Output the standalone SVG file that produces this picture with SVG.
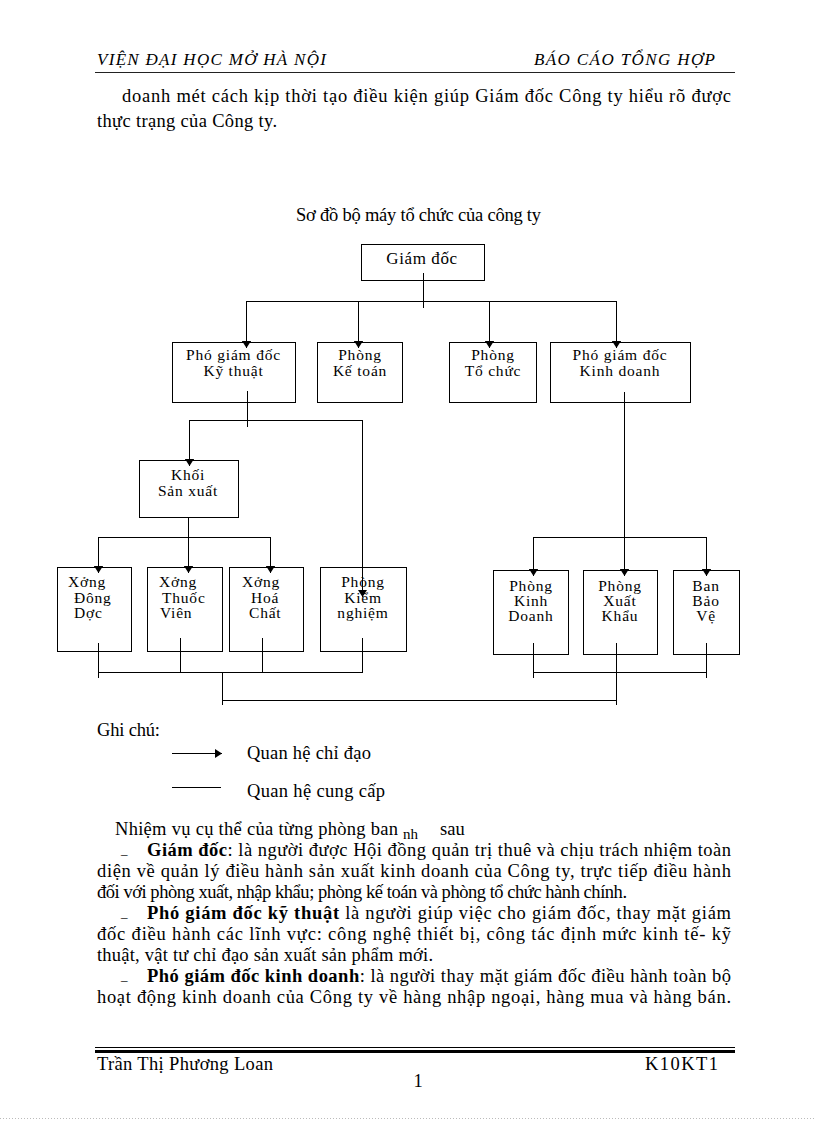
<svg xmlns="http://www.w3.org/2000/svg" width="816" height="1123" viewBox="0 0 816 1123">
<style>
.t{font-family:"Liberation Serif","Times New Roman",serif;fill:#000}
.body{font-size:18.5px}
.hdr{font-size:17px;font-style:italic}
.bul{font-size:13px}
.bx{font-family:"Liberation Serif","Times New Roman",serif;font-size:15.5px;letter-spacing:0.8px;fill:#000}
.c{text-anchor:middle}
.box{fill:#fff;stroke:#000;stroke-width:1}
.ln{fill:none;stroke:#000;stroke-width:1}
.ar{fill:none;stroke:#000;stroke-width:1;marker-end:url(#ah)}
</style>
<defs>
<marker id="ah" markerUnits="userSpaceOnUse" markerWidth="7" markerHeight="9" viewBox="0 0 7 9" refX="7" refY="4.5" orient="auto">
<path d="M0,0 L7,4.5 L0,9 z" fill="#000"/>
</marker>
</defs>
<rect width="816" height="1123" fill="#fff"/>

<g id="header">
<text class="t hdr" x="97" y="65" textLength="229" lengthAdjust="spacing">VIỆN ĐẠI HỌC MỞ HÀ NỘI</text>
<text class="t hdr" x="534" y="65" textLength="181" lengthAdjust="spacing">BÁO CÁO TỔNG HỢP</text>
<line x1="95" y1="72.5" x2="735" y2="72.5" stroke="#222" stroke-width="1"/>
</g>

<g id="intro">
<text class="t body" x="122" y="102" textLength="609" lengthAdjust="spacing">doanh mét cách kịp thời tạo điều kiện giúp Giám đốc Công ty hiểu rõ được</text>
<text class="t body" x="97" y="127" textLength="180" lengthAdjust="spacing">thực trạng của Công ty.</text>
</g>

<text id="title" class="t" x="296" y="221" font-size="18.5" textLength="245" lengthAdjust="spacing">Sơ đồ bộ máy tổ chức của công ty</text>

<g id="connectors">
<line class="ln" x1="423.5" y1="273" x2="423.5" y2="308"/>
<line class="ln" x1="246" y1="301.5" x2="616" y2="301.5"/>
<line class="ar" x1="246.5" y1="301" x2="246.5" y2="348"/>
<line class="ar" x1="358.5" y1="301" x2="358.5" y2="348"/>
<line class="ar" x1="489.5" y1="301" x2="489.5" y2="348"/>
<line class="ar" x1="616.5" y1="301" x2="616.5" y2="348"/>
<line class="ln" x1="247.5" y1="391" x2="247.5" y2="427"/>
<line class="ln" x1="189" y1="420.5" x2="362" y2="420.5"/>
<line class="ar" x1="189.5" y1="420" x2="189.5" y2="466"/>
<line class="ar" x1="362.5" y1="420" x2="362.5" y2="597"/>
<line class="ar" x1="188.5" y1="517" x2="188.5" y2="573"/>
<line class="ln" x1="98" y1="537.5" x2="270" y2="537.5"/>
<line class="ar" x1="98.5" y1="537" x2="98.5" y2="573"/>
<line class="ar" x1="270.5" y1="537" x2="270.5" y2="573"/>
<line class="ar" x1="624.5" y1="392" x2="624.5" y2="576"/>
<line class="ln" x1="533" y1="537.5" x2="706" y2="537.5"/>
<line class="ar" x1="533.5" y1="537" x2="533.5" y2="576"/>
<line class="ar" x1="706.5" y1="537" x2="706.5" y2="576"/>
<line class="ln" x1="98.5" y1="643" x2="98.5" y2="678"/>
<line class="ln" x1="180.5" y1="638" x2="180.5" y2="673"/>
<line class="ln" x1="262.5" y1="638" x2="262.5" y2="673"/>
<line class="ln" x1="362.5" y1="638" x2="362.5" y2="673"/>
<line class="ln" x1="98" y1="672.5" x2="363" y2="672.5"/>
<line class="ln" x1="222.5" y1="672" x2="222.5" y2="705"/>
<line class="ln" x1="222" y1="700.5" x2="616" y2="700.5"/>
<line class="ln" x1="616.5" y1="643" x2="616.5" y2="705"/>
<line class="ln" x1="533" y1="672.5" x2="707" y2="672.5"/>
<line class="ln" x1="533.5" y1="643" x2="533.5" y2="678"/>
<line class="ln" x1="706.5" y1="643" x2="706.5" y2="678"/>
</g>

<g id="n-giamdoc">
<rect class="box" x="361.5" y="244.5" width="123" height="36"/>
<text class="t c" x="422" y="264" font-size="17" letter-spacing="0.6">Giám đốc</text>
</g>
<g id="n-pgd-kt">
<rect class="box" x="172.5" y="342.5" width="123" height="60"/>
<text class="bx c" x="233.5" y="360">Phó giám đốc</text>
<text class="bx c" x="233.5" y="376">Kỹ thuật</text>
</g>
<g id="n-ketoan">
<rect class="box" x="317.5" y="342.5" width="85" height="60"/>
<text class="bx c" x="360" y="360">Phòng</text>
<text class="bx c" x="360" y="376">Kế toán</text>
</g>
<g id="n-tochuc">
<rect class="box" x="449.5" y="342.5" width="87" height="60"/>
<text class="bx c" x="493" y="360">Phòng</text>
<text class="bx c" x="493" y="376">Tổ chức</text>
</g>
<g id="n-pgd-kd">
<rect class="box" x="550.5" y="342.5" width="140" height="60"/>
<text class="bx c" x="620" y="360">Phó giám đốc</text>
<text class="bx c" x="620" y="376">Kinh doanh</text>
</g>
<g id="n-khoi">
<rect class="box" x="139.5" y="460.5" width="99" height="57"/>
<text class="bx c" x="188" y="480">Khối</text>
<text class="bx c" x="188" y="496">Sản xuất</text>
</g>
<g id="n-dongduoc">
<rect class="box" x="57.5" y="567.5" width="74" height="84"/>
<text class="bx" x="68" y="587">Xởng</text>
<text class="bx" x="74" y="603">Đông</text>
<text class="bx" x="74" y="618">Dợc</text>
</g>
<g id="n-thuocvien">
<rect class="box" x="147.5" y="567.5" width="75" height="84"/>
<text class="bx" x="159" y="587">Xởng</text>
<text class="bx" x="162" y="603">Thuốc</text>
<text class="bx" x="160" y="618">Viên</text>
</g>
<g id="n-hoachat">
<rect class="box" x="229.5" y="567.5" width="74" height="84"/>
<text class="bx" x="242" y="587">Xởng</text>
<text class="bx" x="251" y="603">Hoá</text>
<text class="bx" x="249" y="618">Chất</text>
</g>
<g id="n-kiemnghiem">
<rect class="box" x="320.5" y="567.5" width="86" height="84"/>
<text class="bx c" x="363" y="587">Phòng</text>
<text class="bx c" x="363" y="603">Kiểm</text>
<text class="bx c" x="363" y="618">nghiệm</text>
</g>
<g id="n-kinhdoanh">
<rect class="box" x="493.5" y="570.5" width="75" height="84"/>
<text class="bx c" x="531" y="591">Phòng</text>
<text class="bx c" x="531" y="606">Kinh</text>
<text class="bx c" x="531" y="621">Doanh</text>
</g>
<g id="n-xuatkhau">
<rect class="box" x="583.5" y="570.5" width="74" height="84"/>
<text class="bx c" x="620" y="591">Phòng</text>
<text class="bx c" x="620" y="606">Xuất</text>
<text class="bx c" x="620" y="621">Khẩu</text>
</g>
<g id="n-baove">
<rect class="box" x="673.5" y="570.5" width="66" height="84"/>
<text class="bx c" x="706" y="591">Ban</text>
<text class="bx c" x="706" y="606">Bảo</text>
<text class="bx c" x="706" y="621">Vệ</text>
</g>
<g id="overlay-arrows">
<line class="ar" x1="362.5" y1="560" x2="362.5" y2="597"/>
<line class="ar" x1="188.5" y1="560" x2="188.5" y2="573"/>
<line class="ar" x1="98.5" y1="560" x2="98.5" y2="573"/>
<line class="ar" x1="270.5" y1="560" x2="270.5" y2="573"/>
<line class="ar" x1="533.5" y1="560" x2="533.5" y2="576"/>
<line class="ar" x1="624.5" y1="560" x2="624.5" y2="576"/>
<line class="ar" x1="706.5" y1="560" x2="706.5" y2="576"/>
<line class="ar" x1="246.5" y1="330" x2="246.5" y2="348"/>
<line class="ar" x1="358.5" y1="330" x2="358.5" y2="348"/>
<line class="ar" x1="489.5" y1="330" x2="489.5" y2="348"/>
<line class="ar" x1="616.5" y1="330" x2="616.5" y2="348"/>
<line class="ar" x1="189.5" y1="450" x2="189.5" y2="466"/>
<line class="ln" x1="423.5" y1="273" x2="423.5" y2="281"/>
<line class="ln" x1="247.5" y1="391" x2="247.5" y2="403"/>
<line class="ln" x1="624.5" y1="392" x2="624.5" y2="403"/>
<line class="ln" x1="98.5" y1="643" x2="98.5" y2="652"/>
<line class="ln" x1="180.5" y1="638" x2="180.5" y2="652"/>
<line class="ln" x1="262.5" y1="638" x2="262.5" y2="652"/>
<line class="ln" x1="362.5" y1="638" x2="362.5" y2="652"/>
<line class="ln" x1="533.5" y1="643" x2="533.5" y2="655"/>
<line class="ln" x1="616.5" y1="643" x2="616.5" y2="655"/>
<line class="ln" x1="706.5" y1="643" x2="706.5" y2="655"/>
</g>

<g id="legend">
<text class="t body" x="97" y="736" textLength="63" lengthAdjust="spacing">Ghi chú:</text>
<line class="ar" x1="172" y1="753.5" x2="222" y2="753.5"/>
<text class="t body" x="247" y="759" textLength="124" lengthAdjust="spacing">Quan hệ chỉ đạo</text>
<line class="ln" x1="172" y1="787.5" x2="221" y2="787.5"/>
<text class="t body" x="247" y="797" textLength="138" lengthAdjust="spacing">Quan hệ cung cấp</text>
</g>

<g id="text-body">
<text class="t body" x="115" y="835" textLength="283" lengthAdjust="spacing">Nhiệm vụ cụ thể của từng phòng ban</text>
<text class="t" x="403" y="839" font-size="15">nh</text>
<text class="t body" x="440" y="835">sau</text>

<text class="t bul" x="121" y="854">_</text>
<text class="t body" x="147" y="856" textLength="584" lengthAdjust="spacing"><tspan font-weight="bold">Giám đốc</tspan>: là người được Hội đồng quản trị thuê và chịu trách nhiệm toàn</text>
<text class="t body" x="97" y="877" textLength="634" lengthAdjust="spacing">diện về quản lý điều hành sản xuất kinh doanh của Công ty, trực tiếp điều hành</text>
<text class="t body" x="97" y="898" textLength="530" lengthAdjust="spacing">đối với phòng xuất, nhập khẩu; phòng kế toán và phòng tổ chức hành chính.</text>

<text class="t bul" x="121" y="917">_</text>
<text class="t body" x="147" y="919" textLength="584" lengthAdjust="spacing"><tspan font-weight="bold">Phó giám đốc kỹ thuật</tspan> là người giúp việc cho giám đốc, thay mặt giám</text>
<text class="t body" x="97" y="940" textLength="634" lengthAdjust="spacing">đốc điều hành các lĩnh vực: công nghệ thiết bị, công tác định mức kinh tế- kỹ</text>
<text class="t body" x="97" y="961" textLength="336" lengthAdjust="spacing">thuật, vật tư chỉ đạo sản xuất sản phẩm mới.</text>

<text class="t bul" x="121" y="980">_</text>
<text class="t body" x="147" y="982" textLength="584" lengthAdjust="spacing"><tspan font-weight="bold">Phó giám đốc kinh doanh</tspan>: là người thay mặt giám đốc điều hành toàn bộ</text>
<text class="t body" x="97" y="1003" textLength="634" lengthAdjust="spacing">hoạt động kinh doanh của Công ty về hàng nhập ngoại, hàng mua và hàng bán.</text>
</g>

<g id="footer">
<line x1="95" y1="1047.5" x2="735" y2="1047.5" stroke="#000" stroke-width="1"/>
<line x1="95" y1="1051.5" x2="735" y2="1051.5" stroke="#000" stroke-width="3"/>
<text class="t body" x="97" y="1070" textLength="176" lengthAdjust="spacing">Trần Thị Phương Loan</text>
<text class="t body" x="645" y="1070" textLength="73" lengthAdjust="spacing">K10KT1</text>
<text class="t body" x="418" y="1087" text-anchor="middle">1</text>
<line x1="0" y1="1118.5" x2="816" y2="1118.5" stroke="#bbb" stroke-width="1" stroke-dasharray="1,2"/>
</g>
</svg>
